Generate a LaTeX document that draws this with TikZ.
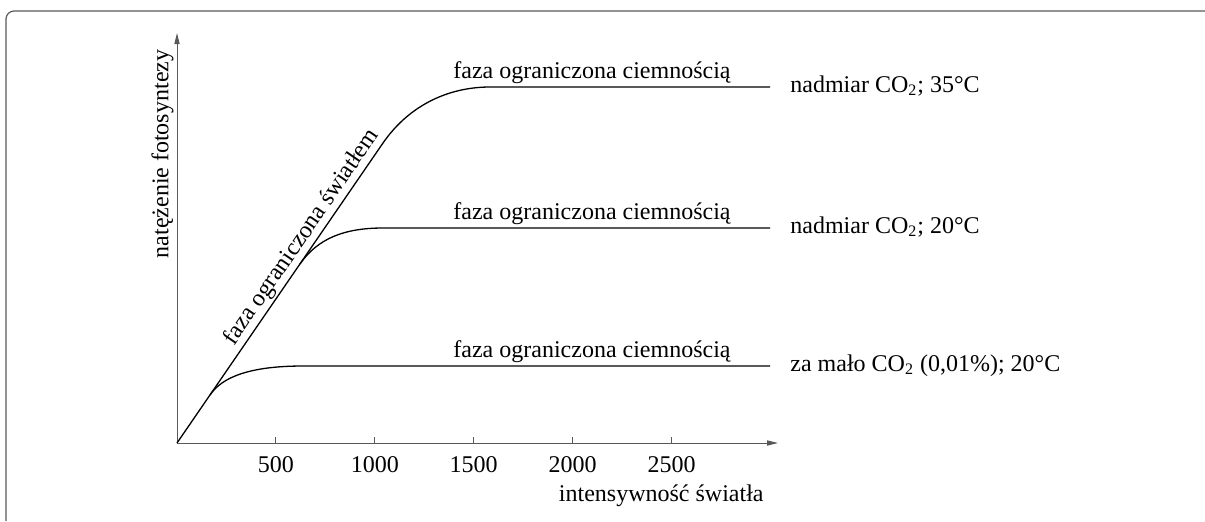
\documentclass[tikz,border=0pt]{standalone}
\usepackage{fontspec}
\setmainfont{Liberation Serif}
\usetikzlibrary{arrows.meta,calc}

\begin{document}
\begin{tikzpicture}[x=0.5pt,y=0.5pt,yscale=-1,xscale=1,
  font=\fontsize{12}{14}\selectfont,
  axis/.style={draw=black!65, line width=0.5pt},
  curve/.style={draw=black, line width=0.65pt},
  tip/.style={-{Triangle[length=5.5pt,width=2.6pt]}},
  phase/.style={anchor=base, inner sep=0pt},
  cond/.style={anchor=base west, inner sep=0pt}]
\useasboundingbox (0,0) rectangle (1205,521);

% Frame
\draw[draw=black!65, line width=0.6pt, rounded corners=4pt] (6,521) -- (6,11) -- (1205,11);

% Axes
\coordinate (O) at (177,443);
\coordinate (ytop) at (177,33);
\coordinate (xend) at (778,443);
\draw[axis, tip] (O) -- (ytop);
\draw[axis, tip] (O) -- (xend);
\foreach \v in {500,1000,1500,2000,2500}{
  \coordinate (t\v) at ({177+\v*0.1978},443);
  \draw[axis] (t\v) -- ++(0,-6);
  \node[anchor=base, inner sep=0pt] (n\v) at ({177+\v*0.1978},472) {\v};
}

% Text Node
\node[rotate=90, anchor=south, inner sep=0pt] (ylab) at (174,154) {natężenie fotosyntezy};
% Text Node
\node[anchor=base east, inner sep=0pt] (xlab) at (764,501) {intensywność światła};

% Curves
\coordinate (k1) at (383,143);
\coordinate (b2) at (300,264);
\coordinate (b3) at (210,395);
\coordinate (e1) at (770,87);
\coordinate (e2) at (770,228);
\coordinate (e3) at (770,366);
\draw[curve] (O) -- (k1) .. controls (410,104) and (450,87) .. (490,87) -- (e1);
\draw[curve] (b2) .. controls (318,238) and (345,228) .. (383,228) -- (e2);
\draw[curve] (b3) .. controls (222,377) and (250,366) .. (303,366) -- (e3);

% Text Node
\node[rotate=55.5, anchor=south, inner sep=1pt] (light) at ($(O)!0.66!(k1)$) {faza ograniczona światłem};

% Text Node
\node[phase] (d1) at (592,78) {faza ograniczona ciemnością};
% Text Node
\node[phase] (d2) at (592,219) {faza ograniczona ciemnością};
% Text Node
\node[phase] (d3) at (592,357) {faza ograniczona ciemnością};

% Text Node
\node[cond] (c1) at (790,92) {nadmiar CO\textsubscript{2}; 35°C};
% Text Node
\node[cond] (c2) at (790,233) {nadmiar CO\textsubscript{2}; 20°C};
% Text Node
\node[cond] (c3) at (790,371) {za mało CO\textsubscript{2} (0,01\%); 20°C};

\end{tikzpicture}
\end{document}
